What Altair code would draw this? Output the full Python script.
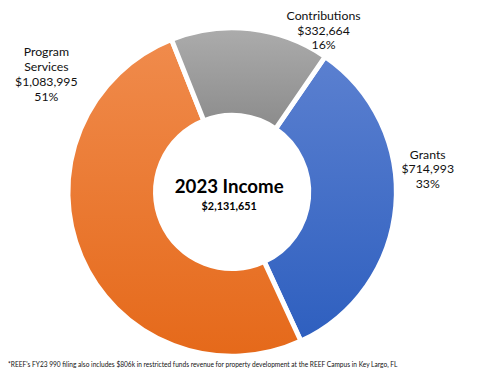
import altair as alt
import pandas as pd
import math

categories = ["Grants", "Program Services", "Contributions"]
values = [714993, 1083995, 332664]
percents = [33, 51, 16]
order = [1, 2, 3]
total_income = [2131651]
title_text = ["2023 Income"]
footnote = ["*REEF's FY23 990 filing also includes $806k in restricted funds revenue for property development at the REEF Campus in Key Largo, FL"]

df = pd.DataFrame({"category": categories, "value": values, "pct": percents, "order": order})
total = sum(values)

start_angle = math.radians(34.5)

CX, CY = 228, 184
FONT = "Lato"

base = alt.Chart(df).transform_window(
    cum="sum(value)", frame=[None, 0], sort=[alt.SortField("order")]
).transform_calculate(
    start="datum.cum - datum.value",
    label="replace(datum.category, ' ', '\\n') + '\\n$' + format(datum.value, ',') + '\\n' + datum.pct + '%'",
)

theta_scale = alt.Scale(domain=[0, total], range=[start_angle, start_angle + 2 * math.pi])

grads = {
    "Grants": ["#5b80d0", "#2e5fbf"],
    "Program Services": ["#f08b4c", "#e5691a"],
    "Contributions": ["#acacac", "#8b8b8b"],
}

arcs = []
for cat in categories:
    g = grads[cat]
    arcs.append(
        base.transform_filter(alt.datum.category == cat).mark_arc(
            innerRadius=78, outerRadius=167, stroke="white", strokeWidth=5,
            color=alt.Gradient(
                gradient="linear",
                stops=[alt.GradientStop(color=g[0], offset=0), alt.GradientStop(color=g[1], offset=1)],
                x1=0, x2=0, y1=0, y2=1,
            ),
        ).encode(
            theta=alt.Theta("start:Q", scale=theta_scale),
            theta2="cum:Q",
            x=alt.value(CX), y=alt.value(CY),
        )
    )

label_pos = {"Grants": (427, 146), "Program Services": (39, 42), "Contributions": (321, 5)}
labels = []
for cat in categories:
    lx, ly = label_pos[cat]
    labels.append(
        base.transform_filter(alt.datum.category == cat).mark_text(
            font=FONT, fontSize=12.5, lineBreak="\n", lineHeight=15,
            align="center", baseline="middle", color="#111111",
        ).encode(text="label:N", x=alt.value(lx), y=alt.value(ly))
    )

title = alt.Chart(pd.DataFrame({"t": title_text})).mark_text(
    font=FONT, fontSize=19, fontWeight="bold", color="black", align="center", baseline="middle"
).encode(text="t:N", x=alt.value(CX - 3), y=alt.value(179))

total_txt = alt.Chart(pd.DataFrame({"tot": total_income})).transform_calculate(
    tt="'$' + format(datum.tot, ',')"
).mark_text(
    font=FONT, fontSize=11, fontWeight="bold", color="black", align="center", baseline="middle"
).encode(text="tt:N", x=alt.value(CX - 3), y=alt.value(199))

foot = alt.Chart(pd.DataFrame({"f": footnote})).mark_text(
    font=FONT, fontSize=6.7, color="#111111", align="left", baseline="middle"
).encode(text="f:N", x=alt.value(0), y=alt.value(360))

chart = alt.layer(*arcs, *labels, title, total_txt, foot).properties(
    width=472, height=366, autosize=alt.AutoSizeParams(type="none"), padding=0
).configure_view(stroke=None)

chart.save("out.html", embed_options={"renderer": "svg", "actions": False})
